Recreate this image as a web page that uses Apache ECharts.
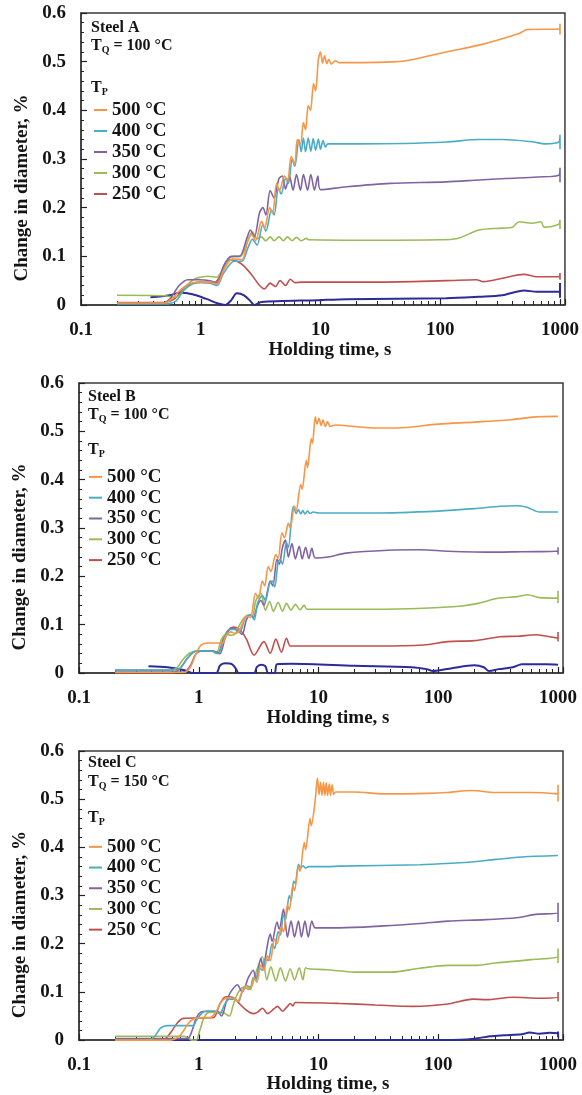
<!DOCTYPE html>
<html><head><meta charset="utf-8">
<script src="https://cdn.jsdelivr.net/npm/echarts@6/dist/echarts.min.js"></script>
<style>html,body{margin:0;padding:0;background:#fff}#c{width:582px;height:1095px}</style>
</head><body><div id="c"></div>
<script>
// ---------- data ----------
const seriesNames = ['500 °C', '400 °C', '350 °C', '300 °C', '250 °C'];
const panelNames = ['Steel A', 'Steel B', 'Steel C'];
const quenchTemps = ['100 °C', '100 °C', '150 °C'];
const xMajorTicks = [0.1, 1, 10, 100, 1000];
const xMinorTicks = [0.2,0.3,0.4,0.5,0.6,0.7,0.8,0.9,2,3,4,5,6,7,8,9,20,30,40,50,60,70,80,90,200,300,400,500,600,700,800,900];
const yTickStep = 0.1;

// Steel A
const A500 = [[0.2,0.004],[0.5,0.004],[0.57,0.012],[0.67,0.03],[0.81,0.044],[0.98,0.047],[1.19,0.047],[1.36,0.043],[1.58,0.075],[1.85,0.095],[2.2,0.093],[2.46,0.13],[2.66,0.145],[2.87,0.132],[3.22,0.172],[3.42,0.158],[3.76,0.2],[3.98,0.188],[4.3,0.25],[4.55,0.235],[5.0,0.265],[5.3,0.255],[5.7,0.305],[6.1,0.29],[6.4,0.34],[6.8,0.33],[7.2,0.375],[7.5,0.36],[7.9,0.41],[8.25,0.4],[8.75,0.455],[9.1,0.44],[9.6,0.505],[10,0.52],[10.4,0.497],[10.8,0.512],[11.3,0.496],[11.7,0.505],[12.3,0.495],[13.3,0.502],[14.4,0.498],[35,0.499],[55,0.503],[112,0.52],[211,0.534],[456,0.558],[535,0.566],[980,0.567],[1000,0.578],[1000,0.556],[1000,0.567]];
const A400 = [[0.2,0.002],[0.5,0.002],[0.62,0.008],[0.72,0.03],[0.85,0.043],[1.0,0.046],[1.2,0.045],[1.37,0.04],[1.55,0.065],[1.9,0.09],[2.2,0.09],[2.5,0.12],[2.7,0.135],[2.95,0.123],[3.3,0.165],[3.5,0.152],[3.9,0.195],[4.1,0.185],[4.45,0.24],[4.7,0.228],[5.1,0.26],[5.4,0.25],[5.8,0.3],[6.1,0.285],[6.6,0.34],[6.9,0.315],[7.2,0.343],[7.5,0.315],[7.9,0.343],[8.3,0.316],[8.7,0.342],[9.1,0.318],[9.6,0.341],[10.0,0.32],[10.5,0.338],[11,0.325],[11.5,0.331],[20,0.331],[50,0.332],[112,0.335],[211,0.34],[330,0.34],[600,0.335],[750,0.331],[980,0.335],[1000,0.35],[1000,0.32],[1000,0.335]];
const A350 = [[0.2,0.004],[0.48,0.004],[0.55,0.012],[0.66,0.04],[0.78,0.052],[0.95,0.052],[1.2,0.05],[1.36,0.045],[1.55,0.08],[1.8,0.1],[2.1,0.1],[2.45,0.14],[2.6,0.154],[2.8,0.14],[3.1,0.19],[3.3,0.2],[3.5,0.185],[3.8,0.235],[4.1,0.22],[4.5,0.26],[4.8,0.265],[5.1,0.238],[5.5,0.265],[5.9,0.236],[6.3,0.268],[6.8,0.236],[7.2,0.268],[7.8,0.236],[8.3,0.268],[8.9,0.236],[9.5,0.265],[10,0.237],[16.5,0.243],[38,0.25],[112,0.253],[211,0.257],[350,0.26],[650,0.263],[980,0.267],[1000,0.282],[1000,0.252],[1000,0.267]];
const A300 = [[0.2,0.02],[0.5,0.019],[0.6,0.016],[0.68,0.022],[0.76,0.04],[0.88,0.053],[1.0,0.057],[1.15,0.059],[1.35,0.057],[1.5,0.07],[1.75,0.097],[1.9,0.1],[2.15,0.1],[2.4,0.125],[2.7,0.15],[2.95,0.136],[3.2,0.14],[3.5,0.132],[3.8,0.14],[4.1,0.132],[4.5,0.14],[4.9,0.132],[5.3,0.14],[5.8,0.132],[6.3,0.139],[6.9,0.132],[7.6,0.137],[8,0.134],[30,0.133],[100,0.134],[136,0.136],[211,0.154],[329,0.158],[400,0.16],[457,0.171],[581,0.168],[694,0.171],[735,0.16],[978,0.166],[1000,0.175],[1000,0.156],[1000,0.166]];
const A250 = [[0.2,0.005],[0.5,0.005],[0.6,0.012],[0.7,0.03],[0.82,0.043],[1.0,0.047],[1.3,0.046],[1.45,0.06],[1.6,0.085],[1.75,0.093],[2.0,0.09],[2.3,0.08],[2.7,0.06],[3.1,0.04],[3.4,0.033],[3.8,0.045],[4.2,0.038],[4.6,0.05],[5.1,0.04],[5.6,0.053],[6.1,0.046],[7,0.047],[30,0.047],[112,0.05],[200,0.052],[230,0.048],[330,0.055],[500,0.063],[640,0.058],[980,0.058],[1000,0.066],[1000,0.052],[1000,0.058]];
const Abase = [[0.38,0.016],[0.55,0.02],[0.67,0.025],[0.85,0.022],[1.1,0.013],[1.4,0.003],[1.6,0.0],[1.8,0.01],[2.0,0.024],[2.3,0.02],[2.6,0.008],[2.8,0.0],[3.2,0.006],[9.6,0.01],[16.5,0.012],[112,0.014],[211,0.017],[330,0.02],[500,0.03],[640,0.027],[980,0.027],[1000,0.045],[1000,0.015],[1000,0.027]];

// Steel B
const B500 = [[0.2,0.001],[0.75,0.001],[0.85,0.012],[0.95,0.04],[1.05,0.058],[1.2,0.062],[1.45,0.062],[1.55,0.06],[1.7,0.078],[1.85,0.085],[2.0,0.082],[2.15,0.085],[2.3,0.1],[2.5,0.118],[2.7,0.115],[2.98,0.165],[3.15,0.155],[3.4,0.19],[3.55,0.18],[3.8,0.22],[4.0,0.21],[4.4,0.245],[4.6,0.237],[4.95,0.29],[5.2,0.28],[5.6,0.31],[5.8,0.3],[6.3,0.345],[6.5,0.335],[7.1,0.39],[7.3,0.38],[7.9,0.44],[8.1,0.425],[8.7,0.485],[8.9,0.475],[9.4,0.53],[9.7,0.515],[10.1,0.527],[10.5,0.512],[10.9,0.524],[11.4,0.51],[11.9,0.52],[12.5,0.51],[13.9,0.513],[20,0.51],[30,0.507],[45,0.507],[100,0.515],[200,0.519],[400,0.524],[650,0.53],[1000,0.531]];
const B400 = [[0.2,0.006],[0.6,0.006],[0.7,0.01],[0.8,0.03],[0.9,0.043],[1.0,0.046],[1.3,0.045],[1.45,0.04],[1.6,0.065],[1.8,0.09],[2.0,0.09],[2.2,0.085],[2.45,0.115],[2.7,0.12],[2.9,0.11],[3.1,0.145],[3.4,0.16],[3.6,0.15],[3.9,0.185],[4.1,0.19],[4.3,0.178],[4.6,0.23],[4.8,0.235],[5.0,0.225],[5.4,0.27],[5.6,0.26],[6.0,0.33],[6.2,0.345],[6.5,0.33],[6.8,0.338],[7.1,0.329],[7.4,0.336],[7.7,0.329],[8.1,0.335],[8.5,0.33],[9,0.333],[10,0.331],[30,0.331],[100,0.335],[200,0.34],[330,0.345],[450,0.346],[550,0.343],[700,0.333],[1000,0.333]];
const B350 = [[0.2,0.002],[0.75,0.002],[0.85,0.015],[0.95,0.04],[1.1,0.046],[1.35,0.045],[1.5,0.04],[1.65,0.07],[1.8,0.09],[1.95,0.093],[2.1,0.088],[2.3,0.08],[2.5,0.11],[2.7,0.12],[2.85,0.115],[3.1,0.14],[3.3,0.15],[3.5,0.14],[3.75,0.17],[3.95,0.19],[4.15,0.18],[4.5,0.235],[4.7,0.225],[5.0,0.26],[5.3,0.275],[5.6,0.24],[6.0,0.268],[6.4,0.236],[6.9,0.262],[7.3,0.236],[7.8,0.26],[8.3,0.237],[8.8,0.258],[9.4,0.238],[12,0.24],[17,0.248],[38,0.254],[70,0.255],[120,0.252],[300,0.25],[500,0.251],[1000,0.252],[1000,0.26],[1000,0.245],[1000,0.252]];
const B300 = [[0.2,0.006],[0.55,0.006],[0.65,0.01],[0.75,0.03],[0.85,0.042],[1.0,0.046],[1.3,0.045],[1.4,0.04],[1.55,0.07],[1.7,0.08],[1.85,0.078],[2.0,0.08],[2.2,0.1],[2.4,0.115],[2.6,0.12],[2.8,0.118],[3.0,0.15],[3.3,0.165],[3.6,0.13],[3.9,0.148],[4.2,0.128],[4.6,0.146],[5.0,0.128],[5.4,0.144],[5.9,0.13],[6.4,0.142],[7.0,0.131],[7.6,0.14],[8,0.132],[30,0.132],[75,0.134],[150,0.138],[215,0.144],[320,0.155],[460,0.158],[560,0.162],[700,0.156],[1000,0.155],[1000,0.17],[1000,0.145],[1000,0.155]];
const B250 = [[0.2,0.0],[0.6,0.0],[0.7,0.01],[0.8,0.03],[0.9,0.043],[1.0,0.046],[1.3,0.045],[1.45,0.042],[1.6,0.07],[1.75,0.088],[1.95,0.095],[2.2,0.09],[2.5,0.07],[2.9,0.037],[3.5,0.065],[3.95,0.041],[4.4,0.07],[4.9,0.043],[5.4,0.072],[5.8,0.056],[6.2,0.056],[30,0.056],[75,0.058],[120,0.065],[200,0.067],[330,0.075],[460,0.076],[650,0.079],[800,0.076],[1000,0.072],[1000,0.085],[1000,0.065],[1000,0.075]];
const Bbase = [[0.38,0.014],[0.55,0.012],[0.75,0.006],[0.9,0.0],[1.4,0.0],[1.5,0.015],[1.65,0.02],[1.9,0.018],[2.05,0.008],[2.15,0.0],[2.9,0.0],[3.05,0.012],[3.3,0.017],[3.6,0.014],[3.8,0.0],[4.3,0.0],[4.5,0.018],[6,0.019],[20,0.015],[60,0.012],[80,0.008],[90,0.004],[130,0.01],[200,0.016],[240,0.012],[265,0.004],[320,0.008],[420,0.012],[500,0.018],[800,0.018],[1000,0.017]];

// Steel C
const C500 = [[0.2,0.0],[0.58,0.0],[0.7,0.01],[0.82,0.035],[0.92,0.045],[1.1,0.047],[1.25,0.047],[1.4,0.06],[1.55,0.08],[1.75,0.088],[1.95,0.087],[2.1,0.08],[2.3,0.1],[2.5,0.112],[2.7,0.105],[2.9,0.13],[3.05,0.12],[3.3,0.155],[3.5,0.145],[3.75,0.175],[3.95,0.165],[4.3,0.21],[4.5,0.2],[4.9,0.235],[5.1,0.225],[5.5,0.28],[5.7,0.27],[6.1,0.32],[6.3,0.31],[6.8,0.36],[7.0,0.35],[7.6,0.41],[7.8,0.395],[8.5,0.46],[8.7,0.445],[9.4,0.5],[9.8,0.544],[10.1,0.51],[10.4,0.535],[10.7,0.508],[11.0,0.535],[11.3,0.508],[11.6,0.534],[11.9,0.508],[12.3,0.532],[12.6,0.508],[13,0.53],[13.4,0.51],[13.9,0.515],[20,0.515],[35,0.511],[45,0.511],[80,0.512],[120,0.514],[190,0.518],[300,0.514],[600,0.514],[1000,0.511],[1000,0.53],[1000,0.495],[1000,0.511]];
const C400 = [[0.2,0.0],[0.35,0.0],[0.42,0.005],[0.48,0.025],[0.55,0.03],[0.9,0.03],[0.95,0.04],[1.05,0.055],[1.15,0.06],[1.35,0.06],[1.5,0.055],[1.65,0.075],[1.8,0.085],[2.0,0.085],[2.15,0.08],[2.3,0.1],[2.5,0.113],[2.7,0.11],[2.85,0.13],[3.0,0.125],[3.2,0.15],[3.4,0.145],[3.6,0.17],[3.8,0.165],[4.1,0.2],[4.3,0.19],[4.6,0.225],[4.8,0.218],[5.1,0.26],[5.3,0.25],[5.7,0.3],[5.9,0.29],[6.2,0.33],[6.4,0.325],[6.8,0.365],[7.1,0.357],[7.4,0.362],[7.8,0.357],[8.3,0.36],[12,0.36],[15,0.361],[70,0.364],[150,0.368],[200,0.37],[300,0.375],[500,0.38],[1000,0.383]];
const C350 = [[0.2,0.003],[0.8,0.003],[0.88,0.02],[0.95,0.045],[1.04,0.058],[1.2,0.06],[1.42,0.06],[1.55,0.05],[1.7,0.08],[1.85,0.1],[2.1,0.115],[2.3,0.1],[2.6,0.13],[2.85,0.145],[3.0,0.125],[3.3,0.17],[3.45,0.15],[3.7,0.19],[3.95,0.22],[4.1,0.205],[4.5,0.245],[4.7,0.23],[5.1,0.272],[5.5,0.214],[5.9,0.247],[6.3,0.214],[6.8,0.247],[7.2,0.214],[7.7,0.247],[8.2,0.214],[8.8,0.247],[9.4,0.233],[15,0.233],[35,0.237],[70,0.242],[120,0.247],[250,0.25],[450,0.254],[650,0.261],[1000,0.265],[1000,0.285],[1000,0.245],[1000,0.265]];
const C300 = [[0.2,0.008],[0.75,0.008],[0.82,0.004],[0.88,0.0],[0.95,0.0],[1.02,0.02],[1.1,0.045],[1.2,0.057],[1.4,0.058],[1.6,0.057],[1.8,0.05],[1.95,0.075],[2.15,0.1],[2.4,0.11],[2.6,0.105],[2.8,0.115],[3.0,0.14],[3.4,0.173],[3.7,0.125],[4.0,0.152],[4.4,0.123],[4.8,0.15],[5.3,0.123],[5.8,0.148],[6.3,0.125],[6.9,0.15],[7.4,0.125],[7.8,0.15],[8.2,0.148],[12,0.146],[20,0.141],[40,0.141],[70,0.149],[120,0.155],[210,0.155],[300,0.16],[600,0.167],[1000,0.174],[1000,0.19],[1000,0.16],[1000,0.174]];
const C250 = [[0.2,0.0],[0.5,0.0],[0.58,0.015],[0.66,0.035],[0.74,0.045],[1.0,0.046],[1.33,0.047],[1.5,0.075],[1.68,0.09],[1.95,0.088],[2.2,0.075],[2.5,0.062],[2.87,0.055],[3.1,0.058],[3.4,0.066],[3.76,0.055],[4.2,0.064],[4.55,0.07],[5.0,0.06],[5.5,0.07],[5.8,0.076],[6.1,0.071],[6.4,0.078],[15,0.076],[30,0.073],[62,0.07],[120,0.075],[195,0.085],[250,0.084],[420,0.089],[700,0.087],[1000,0.09],[1000,0.1],[1000,0.08],[1000,0.09]];
const Cbase = [[0.2,0.0],[120,0.0],[200,0.003],[270,0.008],[350,0.01],[500,0.012],[580,0.016],[700,0.013],[850,0.015],[1000,0.014],[1000,0.018],[1000,0.006],[1000,0.014]];

const panelSeries = [[A500, A400, A350, A300, A250], [B500, B400, B350, B300, B250], [C500, C400, C350, C300, C250]];
const panelBase = [Abase, Bbase, Cbase];

// ---------- styling / layout ----------
const colors = ['#F79646', '#4BACC6', '#8064A2', '#9BBB59', '#C0504D'];
const baseColor = '#2B2B99';
const FONT = '"Liberation Serif","Times New Roman",serif';
const INK = '#141414';
const X_MIN = 0.1, X_MAX = 1100;
const grids = [
  { left: 81, top: 13, width: 485, height: 292 },
  { left: 79, top: 383, width: 484, height: 290 },
  { left: 79, top: 751, width: 484, height: 291 }
];
const layout = [
  { textX: 91, textY: [28, 46, 88], legendLeft: 94, legendTop: 99.5, legendLine: 21, nameGap: 33, labelMargin: 16 },
  { textX: 88, textY: [397, 415, 450], legendLeft: 89, legendTop: 466.5, legendLine: 20.8, nameGap: 32, labelMargin: 16 },
  { textX: 88, textY: [763, 782, 818], legendLeft: 89, legendTop: 836.5, legendLine: 20.7, nameGap: 31, labelMargin: 15 }
];

const isMajor = v => xMajorTicks.some(t => Math.abs(t - v) / t < 1e-6);

const option = {
  animation: false,
  backgroundColor: '#fff',
  grid: grids.map(g => Object.assign({ show: true, borderColor: '#3a3a3a', borderWidth: 1.5, backgroundColor: 'transparent' }, g)),
  xAxis: [],
  yAxis: [],
  legend: [],
  series: [],
  graphic: []
};

grids.forEach((g, p) => {
  const L = layout[p];
  // main logarithmic time axis
  option.xAxis.push({
    type: 'log', logBase: 10, gridIndex: p, min: X_MIN, max: X_MAX, position: 'bottom',
    axisLine: { show: true, onZero: false, lineStyle: { color: '#3a3a3a', width: 1.5 } },
    axisTick: { show: true, inside: true, length: 6, lineStyle: { color: '#222', width: 1.2 } },
    minorTick: { show: false }, splitLine: { show: false }, minorSplitLine: { show: false },
    axisLabel: {
      margin: L.labelMargin, fontFamily: FONT, fontWeight: 'bold', fontSize: 19, color: INK,
      formatter: v => isMajor(v) ? String(+(+v).toPrecision(6)) : ''
    },
    name: 'Holding time, s', nameLocation: 'middle', nameGap: L.nameGap,
    nameTextStyle: { fontFamily: FONT, fontWeight: 'bold', fontSize: 19, color: INK, padding: [0, 0, 0, 14] }
  });
  // helper axis (same log scale, expressed as exponents) carrying the 2..9 minor ticks
  option.xAxis.push({
    type: 'value', gridIndex: p, min: Math.log10(X_MIN), max: Math.log10(X_MAX), position: 'bottom',
    axisLine: { show: false, onZero: false },
    axisTick: { show: true, inside: true, length: 4, customValues: xMinorTicks.map(v => Math.log10(v)), lineStyle: { color: '#222', width: 1 } },
    axisLabel: { show: false }, splitLine: { show: false }, minorTick: { show: false }
  });
  option.yAxis.push({
    type: 'value', gridIndex: p, min: 0, max: 0.6, interval: yTickStep,
    axisLine: { show: true, onZero: false, lineStyle: { color: '#3a3a3a', width: 1.5 } },
    axisTick: { show: true, inside: true, length: 6, lineStyle: { color: '#222', width: 1.2 } },
    minorTick: { show: true, splitNumber: 5, length: 3, lineStyle: { color: '#222', width: 1 } },
    splitLine: { show: false },
    axisLabel: { margin: 15, fontFamily: FONT, fontWeight: 'bold', fontSize: 19, color: INK },
    name: 'Change in diameter, %', nameLocation: 'middle', nameGap: 48,
    nameTextStyle: { fontFamily: FONT, fontWeight: 'bold', fontSize: 19, color: INK, padding: [0, 58, 0, 0] }
  });
  option.legend.push({
    data: seriesNames.slice(), orient: 'vertical', left: L.legendLeft, top: L.legendTop,
    itemWidth: 13, itemHeight: 2, itemGap: 0, icon: 'rect', padding: 0, selectedMode: false,
    textStyle: { fontFamily: FONT, fontWeight: 'bold', fontSize: 19, color: INK, lineHeight: L.legendLine }
  });
  // base (unlabelled) curve first, then 250 .. 500 so 500 is on top
  option.series.push({
    type: 'line', name: 'base', xAxisIndex: 2 * p, yAxisIndex: p, data: panelBase[p],
    symbol: 'none', showSymbol: false, smooth: 0.3, lineStyle: { width: 2, color: baseColor },
    itemStyle: { color: baseColor }, z: 2
  });
  for (let i = seriesNames.length - 1; i >= 0; i--) {
    option.series.push({
      type: 'line', name: seriesNames[i], xAxisIndex: 2 * p, yAxisIndex: p, data: panelSeries[p][i],
      symbol: 'none', showSymbol: false, smooth: 0.3, lineStyle: { width: 1.6, color: colors[i] },
      itemStyle: { color: colors[i] }, z: 3
    });
  }
  const txt = { fontFamily: FONT, fontWeight: 'bold', fill: INK, align: 'left', verticalAlign: 'middle' };
  const rich = {
    t: { fontFamily: FONT, fontWeight: 'bold', fontSize: 16, lineHeight: 18, color: INK },
    q: { fontFamily: FONT, fontWeight: 'bold', fontSize: 10, lineHeight: 8, verticalAlign: 'bottom', color: INK }
  };
  option.graphic.push({ type: 'text', x: L.textX, y: L.textY[0], z: 10, style: Object.assign({ text: panelNames[p], fontSize: 16 }, txt) });
  option.graphic.push({ type: 'text', x: L.textX, y: L.textY[1], z: 10, style: Object.assign({ text: '{t|T}{q|Q}{t| = ' + quenchTemps[p] + '}', rich: rich, fontSize: 16 }, txt) });
  option.graphic.push({ type: 'text', x: L.textX, y: L.textY[2], z: 10, style: Object.assign({ text: '{t|T}{q|P}', rich: rich, fontSize: 16 }, txt) });
});

const chart = echarts.init(document.getElementById('c'), null, { renderer: 'canvas' });
chart.setOption(option);
</script>
</body></html>
